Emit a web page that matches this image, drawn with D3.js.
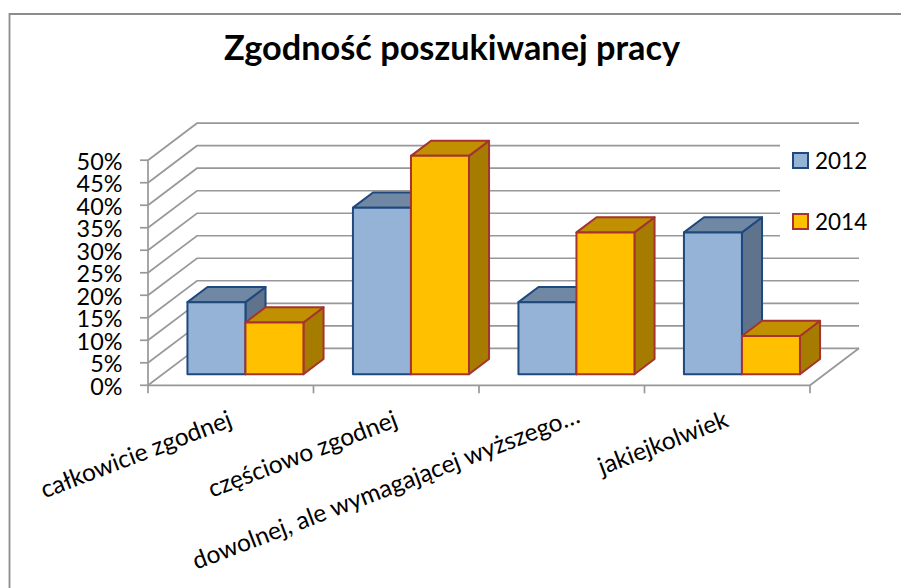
<!DOCTYPE html>
<html><head><meta charset="utf-8">
<script src="https://cdn.jsdelivr.net/npm/d3@7"></script>
<style>html,body{margin:0;padding:0;background:#fff}svg{display:block}text{font-family:Lato,"Open Sans",sans-serif;fill:#000}</style>
</head><body><svg id="c" width="901" height="588"></svg>
<script>
const title = "Zgodność poszukiwanej pracy";
const categories = ["całkowicie zgodnej","częściowo zgodnej","dowolnej, ale wymagającej wyższego…","jakiejkolwiek"];
const seriesNames = ["2012","2014"];
const values2012 = [16,37,16,31.5];
const values2014 = [11.5,48.5,31.5,8.5];
const yTicks = [0,5,10,15,20,25,30,35,40,45,50];

const seriesFill = [{front:"#95b3d7",top:"#7188a5",side:"#5f738d",stroke:"#1f497d"},
                    {front:"#ffc000",top:"#c09000",side:"#a67c00",stroke:"#a5332f"}];
const svg = d3.select("#c");
const W=901,H=588;
const x = d3.scaleBand().domain(categories).range([148,810]);
const y = d3.scaleLinear().domain([0,50]).range([385.3,160.2]);
const DX=49, DY=-37;
const proj = (xv,yv,d)=>[xv+DX*d, yv+DY*d];
const line = d3.line();

svg.append("path").attr("d",line([[9.5,H],[9.5,14],[W,14]])).attr("fill","none").attr("stroke","#8c8c8c").attr("stroke-width",1.8);

const gridC="#989898";
const g = svg.append("g").attr("fill","none").attr("stroke",gridC).attr("stroke-width",1.7);
yTicks.forEach(t=>{
  g.append("path").attr("d",line([proj(148,y(t),0),proj(148,y(t),1),proj(810,y(t),1)]));
});
g.append("path").attr("d",line([proj(148,y(0),0),[810,y(0)],proj(810,y(0),1)]));
const ax = svg.append("g").attr("fill","none").attr("stroke",gridC).attr("stroke-width",1.7);
ax.append("path").attr("d",line([[148,y(50)],[148,y(0)]]));
yTicks.forEach(t=>ax.append("path").attr("d",line([[140,y(t)],[148,y(t)]])));
x.domain().concat([null]).forEach(c=>{
  const xx = c===null?x.range()[1]:x(c);
  ax.append("path").attr("d",line([[xx,y(0)],[xx,y(0)+8]]));
});
svg.append("rect").attr("x",780).attr("y",131).attr("width",90).attr("height",117).attr("fill","#fff");

svg.append("g").selectAll("text").data(yTicks).join("text")
  .attr("x",122.5).attr("y",d=>y(d)+9.3).attr("text-anchor","end").attr("font-size",23.4)
  .text(d=>d+"%");

const bw = x.bandwidth()*0.3505, d0=0.3, d1=0.71;
const gapL = (x.bandwidth()-2*bw)/2;
function bar(cat,val,s,i){
  const xl = x(cat)+gapL+i*bw, xr=xl+bw, yb=y(0), yt=y(val), c=seriesFill[s];
  const G=svg.append("g").attr("stroke",c.stroke).attr("stroke-width",2).attr("stroke-linejoin","round");
  G.append("path").attr("fill",c.side).attr("d",line([proj(xr,yb,d0),proj(xr,yb,d1),proj(xr,yt,d1),proj(xr,yt,d0)])+"Z");
  G.append("path").attr("fill",c.top).attr("d",line([proj(xl,yt,d0),proj(xr,yt,d0),proj(xr,yt,d1),proj(xl,yt,d1)])+"Z");
  G.append("path").attr("fill",c.front).attr("d",line([proj(xl,yb,d0),proj(xr,yb,d0),proj(xr,yt,d0),proj(xl,yt,d0)])+"Z");
}
categories.forEach((c,i)=>{
  bar(c,values2012[i],0,0);
  bar(c,values2014[i],1,1);
});

const labelNudgeX=[0,0,17,0], labelNudgeY=[0,0,-4,0];
svg.append("g").selectAll("text").data(categories).join("text")
  .attr("text-anchor","end").attr("font-size",24.5).attr("font-weight",400)
  .attr("transform",(d,i)=>`translate(${x(d)+x.bandwidth()-80+labelNudgeX[i]},${426+labelNudgeY[i]}) rotate(-21)`)
  .text(d=>d);

seriesNames.forEach((n,i)=>{
  const ly=[153,214][i], c=seriesFill[i];
  svg.append("rect").attr("x",793).attr("y",ly).attr("width",15).attr("height",15)
    .attr("fill",c.front).attr("stroke",c.stroke).attr("stroke-width",2);
  svg.append("text").attr("x",815).attr("y",ly+16).attr("font-size",22.5).text(n);
});

svg.append("text").attr("x",452).attr("y",59.5).attr("text-anchor","middle").attr("font-size",34.3).attr("font-weight",700).text(title);
</script></body></html>
